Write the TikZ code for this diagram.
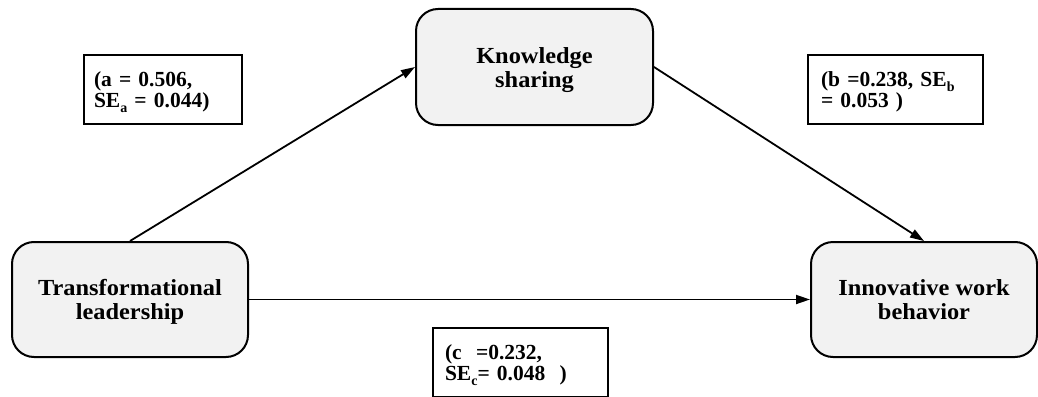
\documentclass[tikz,border=0pt]{standalone}
\usepackage{graphicx}
\usepackage{fontspec}
\setmainfont{Liberation Serif}
\usetikzlibrary{arrows.meta}
\definecolor{boxfill}{HTML}{F2F2F2}
\newcommand\mysx[4]{\raisebox{#4}[\height][\depth]{\scalebox{#1}[1]{\begin{tabular}{@{}#2@{}}#3\end{tabular}}}}
\newcommand\mysub[1]{\raisebox{-5pt}{\fontsize{14}{14}\selectfont #1}}
\tikzset{
  mainbox/.style={draw, line width=2pt, fill=boxfill, rounded corners=22pt,
    inner sep=0pt, align=center, font=\fontsize{23}{24}\selectfont\bfseries},
  labbox/.style={draw, line width=1.8pt, fill=white, inner xsep=0pt, inner ysep=0pt,
    minimum height=69pt, align=left, font=\fontsize{21.5}{19}\selectfont\bfseries},
  conn/.style={line width=1.8pt, -{Triangle[length=14pt,width=9pt]}}
}
\begin{document}
\begin{tikzpicture}[x=1pt,y=-1pt]
\useasboundingbox (0,0) rectangle (1038,396);
\clip (0,0) rectangle (1038,396);
\fill[white] (0,0) rectangle (1038,396);

\node[mainbox, minimum width=237pt, minimum height=116pt] (ks) at (534.5,67)
  {\mysx{1.06}{c}{Knowledge\\sharing}{-4pt}};
\node[mainbox, minimum width=236pt, minimum height=115pt] (tl) at (130,299.5)
  {\mysx{1.06}{c}{Transformational\\leadership}{-3pt}};
\node[mainbox, minimum width=226pt, minimum height=115pt] (iwb) at (924,299.5)
  {\mysx{1.06}{c}{Innovative work\\behavior}{-3pt}};

\draw[conn] (tl.north) -- (ks.west);
\draw[conn] (ks.east) -- (iwb.north);
\draw[conn] (tl.east) -- (iwb.west);

\node[labbox, text width=138pt, minimum width=158pt, inner xsep=10pt] (la) at (163,89.5)
  {\mysx{1.0}{l}{(a = 0.506,\\SE\mysub{a} = 0.044)}{-3pt}};
\node[labbox, text width=149pt, minimum width=175pt, inner xsep=13pt] (lb) at (895.5,89.5)
  {\mysx{1.0}{l}{(b =0.238, SE\mysub{b}\\= 0.053 )}{-3pt}};
\node[labbox, text width=151pt, minimum width=175pt, inner xsep=12pt] (lc) at (520.5,362.5)
  {\mysx{1.0}{l}{(c\ \ =0.232,\\SE\mysub{c}= 0.048\ \ )}{-3pt}};
\end{tikzpicture}
\end{document}
